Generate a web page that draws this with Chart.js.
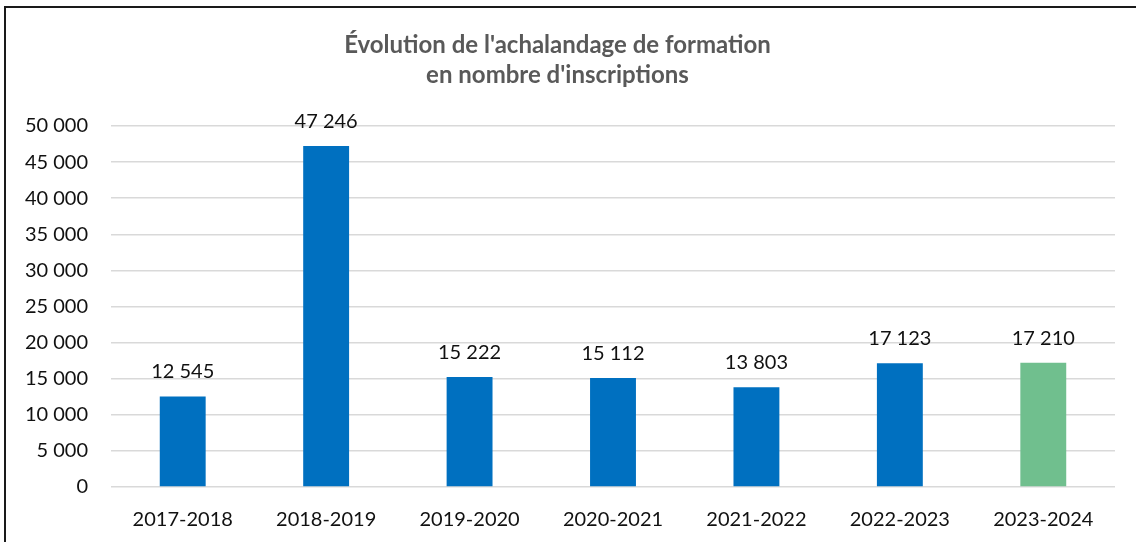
<!DOCTYPE html>
<html>
<head>
<meta charset="utf-8">
<script src="https://cdn.jsdelivr.net/npm/chart.js@4.4.1/dist/chart.umd.min.js"></script>
<style>
  html, body { margin: 0; padding: 0; background: #fff; overflow: hidden; }
  #wrap { position: relative; width: 1136px; height: 542px; }
  #frame { position: absolute; left: 4px; top: 6px; width: 1200px; height: 600px;
           border-left: 2px solid #1a1a1a; border-top: 2px solid #1a1a1a; pointer-events: none; }
  canvas { position: absolute; left: 0; top: 0; }
</style>
</head>
<body>
<div id="wrap">
  <canvas id="chart" width="1136" height="542"></canvas>
  <div id="frame"></div>
</div>
<script>
const years = ['2017-2018', '2018-2019', '2019-2020', '2020-2021', '2021-2022', '2022-2023', '2023-2024'];
const inscriptions = [12545, 47246, 15222, 15112, 13803, 17123, 17210];
const yTicks = [0, 5000, 10000, 15000, 20000, 25000, 30000, 35000, 40000, 45000, 50000];
const highlightYear = '2023-2024';

const BLUE = '#0070C0';
const GREEN = '#70BF8E';
const FONT = 'Lato, "Open Sans", sans-serif';

function formatFr(n) {
    return String(n).replace(/\B(?=(\d{3})+(?!\d))/g, ' ');
}

// value labels on top of each bar
const barLabels = {
    id: 'barLabels',
    afterDatasetsDraw(chart) {
        const ctx = chart.ctx;
        const meta = chart.getDatasetMeta(0);
        ctx.save();
        ctx.font = '20px ' + FONT;
        ctx.fillStyle = '#111';
        ctx.textAlign = 'center';
        ctx.textBaseline = 'alphabetic';
        meta.data.forEach((bar, i) => {
            ctx.fillText(formatFr(chart.data.datasets[0].data[i]), bar.x, bar.y - 18);
        });
        ctx.restore();
    }
};

const data = {
    labels: years,
    datasets: [{
        data: inscriptions,
        backgroundColor: years.map(y => y === highlightYear ? GREEN : BLUE),
        borderWidth: 0,
        barPercentage: 0.32,
        categoryPercentage: 1,
    }],
};

const config = {
    type: 'bar',
    data,
    options: {
        responsive: false,
        animation: false,
        layout: {
            padding: {top: 0, left: 0, right: 21, bottom: 0}
        },
        plugins: {
            legend: {display: false},
            tooltip: {enabled: false},
            title: {
                display: true,
                text: ["Évolution de l'achalandage de formation", "en nombre d'inscriptions"],
                color: '#595959',
                font: {family: FONT, size: 24, weight: 'bold', lineHeight: 1.25},
                padding: {top: 30, bottom: 36},
            },
        },
        scales: {
            x: {
                grid: {display: false},
                border: {display: false},
                ticks: {
                    color: '#111',
                    font: {family: FONT, size: 20},
                    padding: 13,
                    maxRotation: 0,
                },
                afterFit(scale) { scale.height = 55; }
            },
            y: {
                min: 0,
                max: 50000,
                afterBuildTicks(scale) { scale.ticks = yTicks.map(v => ({value: v})); },
                grid: {color: '#D9D9D9', lineWidth: 1.5, drawTicks: false},
                border: {display: false},
                ticks: {
                    color: '#111',
                    font: {family: FONT, size: 20},
                    padding: 23,
                    callback: v => formatFr(v),
                },
                afterFit(scale) { scale.width = 111; }
            }
        }
    },
    plugins: [barLabels]
};

const chart = new Chart(document.getElementById('chart'), config);
</script>
</body>
</html>
